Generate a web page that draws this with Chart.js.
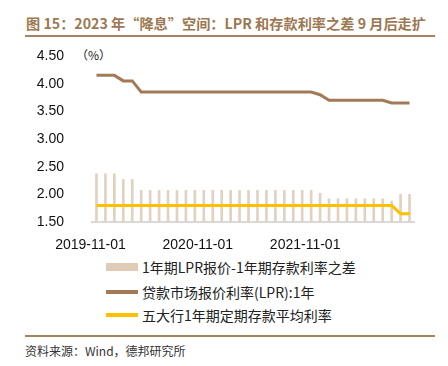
<!DOCTYPE html>
<html>
<head>
<meta charset="utf-8">
<script src="https://cdn.jsdelivr.net/npm/chart.js@4"></script>
<style>
  body { margin: 0; background: #fff; width: 448px; height: 366px; position: relative; overflow: hidden;
         font-family: "Noto Sans CJK SC", "Liberation Sans", sans-serif; }
  #title { position: absolute; left: 26px; top: 13px; font-size: 14.2px; font-weight: bold; color: #9c7853; white-space: nowrap; }
  .rule { position: absolute; left: 25px; width: 410px; height: 2px; background: #a98260; }
  #unit { position: absolute; left: 76px; top: 46px; font-size: 12px; color: #222; }
  #wrap { position: absolute; left: 0; top: 40px; width: 448px; height: 210px; }
  .leg { position: absolute; left: 106px; height: 16px; font-size: 14px; color: #222; white-space: nowrap; }
  .leg span.sw { position: absolute; left: 0; width: 32px; }
  .leg span.tx { position: absolute; left: 36px; top: -10px; }
  #source { position: absolute; left: 25px; top: 342px; font-size: 12px; color: #333; white-space: nowrap; }
</style>
</head>
<body>
<div id="title">图 15：2023 年“降息”空间：LPR 和存款利率之差 9 月后走扩</div>
<div class="rule" style="top:35px"></div>
<div id="unit">（%）</div>
<div id="wrap"><canvas id="c" width="448" height="210"></canvas></div>

<div class="leg" style="top:267px"><span class="sw" style="top:-4px;height:8px;background:#dfcbb6"></span><span class="tx">1年期LPR报价-1年期存款利率之差</span></div>
<div class="leg" style="top:292px"><span class="sw" style="top:-2px;height:4px;background:#a27a57"></span><span class="tx">贷款市场报价利率(LPR):1年</span></div>
<div class="leg" style="top:315px"><span class="sw" style="top:-2px;height:4px;background:#ffc000"></span><span class="tx">五大行1年期定期存款平均利率</span></div>

<div class="rule" style="top:335px"></div>
<div id="source">资料来源：Wind，德邦研究所</div>

<script>
// ============================
// Data
// ============================
const months = [
    '2019-11-01', '2019-12-01',
    '2020-01-01', '2020-02-01', '2020-03-01', '2020-04-01', '2020-05-01', '2020-06-01',
    '2020-07-01', '2020-08-01', '2020-09-01', '2020-10-01', '2020-11-01', '2020-12-01',
    '2021-01-01', '2021-02-01', '2021-03-01', '2021-04-01', '2021-05-01', '2021-06-01',
    '2021-07-01', '2021-08-01', '2021-09-01', '2021-10-01', '2021-11-01', '2021-12-01',
    '2022-01-01', '2022-02-01', '2022-03-01', '2022-04-01', '2022-05-01', '2022-06-01',
    '2022-07-01', '2022-08-01', '2022-09-01', '2022-10-01'
];

// 1年期LPR报价-1年期存款利率之差
const spread = [
    2.37, 2.37, 2.37, 2.27, 2.27, 2.07, 2.07, 2.07, 2.07, 2.07, 2.07, 2.07,
    2.07, 2.07, 2.07, 2.07, 2.07, 2.07, 2.07, 2.07, 2.07, 2.07, 2.07, 2.07,
    2.07, 2.02, 1.92, 1.92, 1.92, 1.92, 1.92, 1.92, 1.92, 1.88, 2.00, 2.00
];

// 贷款市场报价利率(LPR):1年
const lpr = [
    4.15, 4.15, 4.15, 4.05, 4.05, 3.85, 3.85, 3.85, 3.85, 3.85, 3.85, 3.85,
    3.85, 3.85, 3.85, 3.85, 3.85, 3.85, 3.85, 3.85, 3.85, 3.85, 3.85, 3.85,
    3.85, 3.80, 3.70, 3.70, 3.70, 3.70, 3.70, 3.70, 3.70, 3.65, 3.65, 3.65
];

// 五大行1年期定期存款平均利率
const deposit = [
    1.80, 1.80, 1.80, 1.80, 1.80, 1.80, 1.80, 1.80, 1.80, 1.80, 1.80, 1.80,
    1.80, 1.80, 1.80, 1.80, 1.80, 1.80, 1.80, 1.80, 1.80, 1.80, 1.80, 1.80,
    1.80, 1.80, 1.80, 1.80, 1.80, 1.80, 1.80, 1.80, 1.80, 1.80, 1.65, 1.65
];

const yTicks = [1.5, 2.0, 2.5, 3.0, 3.5, 4.0, 4.5];

// ============================
// Chart
// ============================
const ctx = document.getElementById('c').getContext('2d');
const tickFont = { family: '"Liberation Sans", Arial, sans-serif', size: 14 };

new Chart(ctx, {
    type: 'bar',
    data: {
        labels: months,
        datasets: [
            {
                type: 'line',
                label: '贷款市场报价利率(LPR):1年',
                data: lpr,
                borderColor: '#a27a57',
                borderWidth: 3,
                pointRadius: 0,
                order: 1
            },
            {
                type: 'line',
                label: '五大行1年期定期存款平均利率',
                data: deposit,
                borderColor: '#ffc000',
                borderWidth: 3,
                pointRadius: 0,
                order: 2
            },
            {
                label: '1年期LPR报价-1年期存款利率之差',
                data: spread,
                backgroundColor: '#e2d1bf',
                barThickness: 2,
                order: 3
            }
        ]
    },
    options: {
        responsive: false,
        animation: false,
        layout: { padding: { top: 16, right: 34, left: 0, bottom: 0 } },
        plugins: {
            legend: { display: false },
            tooltip: { enabled: false }
        },
        scales: {
            x: {
                offset: true,
                grid: { display: false },
                border: { display: true, color: '#d9d9d9', width: 2 },
                ticks: {
                    autoSkip: false,
                    maxRotation: 0,
                    padding: 7,
                    labelOffset: -6,
                    color: '#111',
                    font: tickFont,
                    callback: function (value, index) {
                        return index % 12 === 0 ? this.getLabelForValue(value) : '';
                    }
                },
                afterFit: (scale) => { scale.height = 28; }
            },
            y: {
                min: 1.5,
                max: 4.5,
                grid: { display: false },
                border: { display: false },
                afterBuildTicks: (scale) => { scale.ticks = yTicks.map(v => ({ value: v })); },
                ticks: {
                    padding: 20,
                    color: '#111',
                    font: tickFont,
                    callback: (v) => v.toFixed(2)
                },
                // keep the label gap from pushing the plot down
                afterFit: (scale) => {
                    scale.width = 92;
                    scale.paddingTop = 0;
                    scale.paddingBottom = 0;
                }
            }
        }
    }
});
</script>
</body>
</html>
